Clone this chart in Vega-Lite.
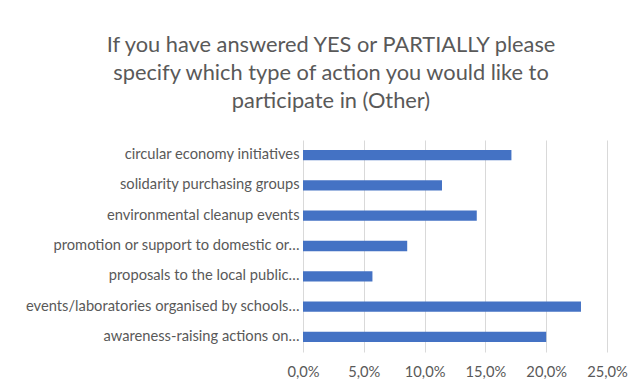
{
  "$schema": "https://vega.github.io/schema/vega-lite/v6.json",
  "width": 304,
  "height": 212,
  "autosize": {"type": "none"},
  "padding": {"left": 303, "top": 140, "right": 35, "bottom": 35},
  "background": "white",
  "title": {
    "text": ["If you have answered YES or PARTIALLY please", "specify which type of action you would like to", "participate in (Other)"],
    "font": "Lato",
    "fontSize": 21.8,
    "fontWeight": "normal",
    "color": "#595959",
    "lineHeight": 28,
    "anchor": "middle",
    "frame": "group",
    "dx": -124,
    "offset": 27
  },
  "data": {
    "values": [
      {"action": "circular economy initiatives", "share": 0.1714},
      {"action": "solidarity purchasing groups", "share": 0.1143},
      {"action": "environmental cleanup events", "share": 0.1429},
      {"action": "promotion or support to domestic or…", "share": 0.0857},
      {"action": "proposals to the local public…", "share": 0.0571},
      {"action": "events/laboratories organised by schools…", "share": 0.2286},
      {"action": "awareness-raising actions on…", "share": 0.2}
    ]
  },
  "mark": {"type": "bar", "color": "#4472C4"},
  "encoding": {
    "y": {
      "field": "action",
      "type": "nominal",
      "sort": null,
      "scale": {"paddingInner": 0.66, "paddingOuter": 0.33},
      "axis": {
        "title": null,
        "ticks": false,
        "domain": false,
        "labelFont": "Lato",
        "labelFontSize": 14.7,
        "labelColor": "#595959",
        "labelPadding": 4,
        "labelLimit": 400
      }
    },
    "x": {
      "field": "share",
      "type": "quantitative",
      "scale": {"domain": [0, 0.25], "nice": false},
      "axis": {
        "title": null,
        "values": [0, 0.05, 0.1, 0.15, 0.2, 0.25],
        "labelExpr": "replace(format(datum.value * 100, '.1f'), '.', ',') + '%'",
        "ticks": false,
        "domain": false,
        "grid": true,
        "gridColor": "#D9D9D9",
        "labelFont": "Lato",
        "labelFontSize": 14.7,
        "labelColor": "#595959",
        "labelPadding": 12,
        "labelFlush": false,
        "labelOverlap": false
      }
    }
  },
  "config": {"view": {"stroke": null}}
}
